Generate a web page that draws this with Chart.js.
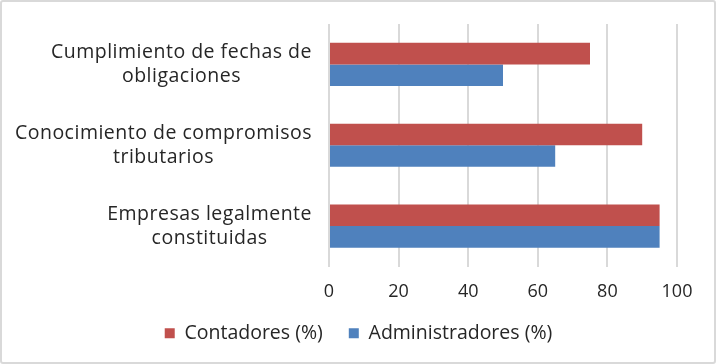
<!DOCTYPE html>
<html>
<head>
<meta charset="utf-8">
<script src="https://cdn.jsdelivr.net/npm/chart.js@4/dist/chart.umd.min.js"></script>
<style>
  body { margin: 0; background: #fff; }
  #wrap { position: relative; width: 716px; height: 364px; }
  #frame { position: absolute; left: 0; top: 0; width: 716px; height: 364px; box-sizing: border-box;
           border: 2px solid #d9d9d9; border-radius: 3px; }
  #chart { position: absolute; left: 0; top: 0; }
</style>
</head>
<body>
<div id="wrap">
  <div id="frame"></div>
  <canvas id="chart" width="716" height="364"></canvas>
</div>
<script>
const categories = [
    ['Cumplimiento de fechas de', 'obligaciones'],
    ['Conocimiento de compromisos', 'tributarios'],
    ['Empresas legalmente', 'constituidas']
];
const contadores = [75, 90, 95];
const administradores = [50, 65, 95];
const xTicks = [0, 20, 40, 60, 80, 100];

const textColor = '#262626';

// excel style labels: each block right-aligned, its lines centered inside
const blockLabels = {
    id: 'blockLabels',
    afterLayout(chart) {
        // legend is centered on the whole frame, not on the padded area
        chart.legend.left += 20;
        chart.legend.right += 20;
    },
    afterDraw(chart) {
        const ctx = chart.ctx;
        const y = chart.scales.y;
        const rightEdge = y.right - 17;
        const lineH = 24;
        ctx.save();
        ctx.font = '19.5px "Open Sans"';
        ctx.letterSpacing = '0.5px';
        ctx.fillStyle = textColor;
        ctx.textAlign = 'center';
        ctx.textBaseline = 'middle';
        categories.forEach((lines, i) => {
            const mid = y.getPixelForTick(i);
            const widest = Math.max(...lines.map(l => ctx.measureText(l).width));
            const cx = rightEdge - widest / 2;
            const top = mid - (lines.length - 1) * lineH / 2;
            lines.forEach((l, j) => ctx.fillText(l, cx, top + j * lineH));
        });
        ctx.restore();
    }
};

new Chart('chart', {
    type: 'bar',
    data: {
        labels: categories,
        datasets: [
            { label: 'Contadores (%)', data: contadores, backgroundColor: '#c0504d' },
            { label: 'Administradores (%)', data: administradores, backgroundColor: '#4f81bd' }
        ]
    },
    options: {
        indexAxis: 'y',
        responsive: false,
        animation: false,
        categoryPercentage: 0.535,
        barPercentage: 1,
        layout: { padding: { top: 24, right: 39, left: 0, bottom: 11 } },
        scales: {
            x: {
                min: 0, max: 100,
                afterBuildTicks(scale) { scale.ticks = xTicks.map(v => ({ value: v })); },
                grid: { color: '#d9d9d9', lineWidth: 2, drawTicks: false },
                border: { display: false },
                ticks: { color: textColor, padding: 15, font: { family: 'Open Sans', size: 18 } },
                afterFit(scale) { scale.height = 31; }
            },
            y: {
                grid: { display: false },
                border: { display: false },
                ticks: { display: false },
                afterFit(scale) { scale.width = 329; }
            }
        },
        plugins: {
            legend: {
                position: 'bottom',
                labels: {
                    color: textColor,
                    boxWidth: 10, boxHeight: 10,
                    padding: 26,
                    font: { family: 'Open Sans', size: 19.5 }
                }
            },
            tooltip: { enabled: false }
        }
    },
    plugins: [blockLabels]
});
</script>
</body>
</html>
